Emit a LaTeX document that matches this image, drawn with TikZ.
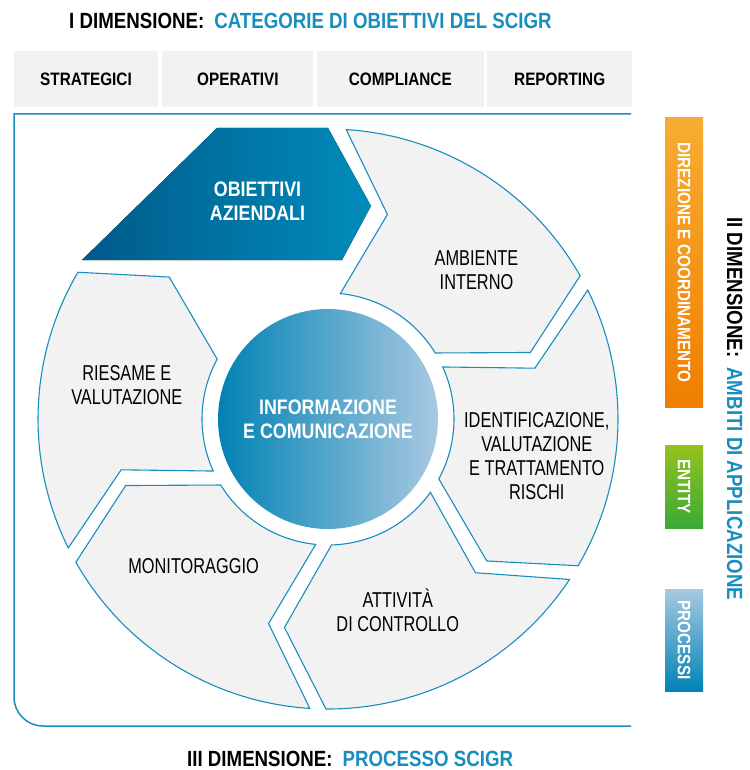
\documentclass[tikz,border=0pt]{standalone}
\usepackage{fontspec}
\usepackage{graphicx}
\usepackage{tikz}
\usetikzlibrary{positioning}
\setmainfont{Liberation Sans}[FakeStretch=0.76]
\newfontfamily\headfont{Liberation Sans}[FakeStretch=0.85]
\definecolor{sciblue}{RGB}{24,142,190}
\definecolor{segfill}{RGB}{242,242,242}
\definecolor{objdark}{RGB}{0,90,138}
\definecolor{objlight}{RGB}{0,140,187}
\definecolor{infoleft}{RGB}{0,130,180}
\definecolor{inforight}{RGB}{169,201,225}
\definecolor{dirtop}{RGB}{247,173,51}
\definecolor{dirbot}{RGB}{240,126,0}
\definecolor{enttop}{RGB}{149,193,31}
\definecolor{entbot}{RGB}{58,170,53}
\definecolor{protop}{RGB}{168,200,226}
\definecolor{probot}{RGB}{0,131,181}

\begin{document}
\begin{tikzpicture}[x=1pt, y=-1pt,
    catbox/.style={fill=segfill, minimum height=56, inner sep=0pt, font=\headfont\bfseries\fontsize{18}{22}\selectfont},
    segment/.style={draw=sciblue, line width=1.1pt, fill=segfill},
    seglabel/.style={align=center, font=\fontsize{21.5}{24}\selectfont},
    dimtitle/.style={inner sep=0pt, font=\headfont\bfseries\fontsize{22}{24}\selectfont},
    bar/.style={minimum width=38, inner sep=0pt, text=white, font=\headfont\bfseries\fontsize{18}{20}\selectfont}]
    \useasboundingbox (0,0) rectangle (749,770);

    % I dimensione
    \node[dimtitle, anchor=base west] (dimone) at (69,29) {I DIMENSIONE:\hskip10pt\textcolor{sciblue}{CATEGORIE DI OBIETTIVI DEL SCIGR}};
    \node[catbox, minimum width=144] (strategici) at (86,79) {STRATEGICI};
    \node[catbox, minimum width=151, right=4pt of strategici] (operativi) {OPERATIVI};
    \node[catbox, minimum width=167, right=3pt of operativi] (compliance) {COMPLIANCE};
    \node[catbox, minimum width=145, right=3pt of compliance] (reporting) {REPORTING};

    % cornice
    \draw[sciblue, line width=1.5pt] (631,114) -- (14,114) -- (14,697) arc[start angle=180, end angle=270, radius=29pt] -- (631,726);

    % obiettivi aziendali
    \fill[left color=objdark, right color=objlight] (217,128) -- (328,128) -- (371,206) -- (342,260) -- (82,260) -- cycle;
    \node[align=center, text=white, font=\headfont\bfseries\fontsize{21}{24}\selectfont] (obiettivi) at (257.5,201) {OBIETTIVI\\AZIENDALI};

    % processo
    \begin{scope}[shift={(328,419)}]
    \foreach \i/\ang/\rad/\txt in {0/45/210/{AMBIENTE\\INTERNO}, 1/-10/212/{IDENTIFICAZIONE,\\VALUTAZIONE\\E TRATTAMENTO\\RISCHI}, 2/-70/204/{ATTIVITÀ\\DI CONTROLLO}, 3/-132.5/199/{MONITORAGGIO}, 4/170.5/204/{RIESAME E\\VALUTAZIONE}} {
        \pgfmathsetmacro\a{88-60*\i}
        \pgfmathsetmacro\b{\a-60}
        \draw[segment] ({\a-1.6}:290pt) arc[start angle={\a-1.6}, end angle={\b+1.6}, radius=290pt]
            -- ({\b-12+2.2}:213pt) -- ({\b+3.6}:126pt)
            arc[start angle={\b+3.6}, end angle={\a-3.6}, radius=126pt]
            -- ({\a-12-2.2}:213pt) -- cycle;
        \node[seglabel] (seg\i) at (\ang:\rad pt) {\txt};
    }
    \end{scope}
    \node[circle, minimum size=220, left color=infoleft, right color=inforight, text=white, align=center, font=\headfont\bfseries\fontsize{21}{24}\selectfont] (info) at (328,419) {INFORMAZIONE\\E COMUNICAZIONE};

    % II dimensione
    \node[bar, minimum height=289, top color=dirtop, bottom color=dirbot] (direzione) at (684,262.5) {\rotatebox{-90}{DIREZIONE E COORDINAMENTO}};
    \node[bar, minimum height=83, top color=enttop, bottom color=entbot] (entity) at (684,486.5) {\rotatebox{-90}{ENTITY}};
    \node[bar, minimum height=102, top color=protop, bottom color=probot] (processi) at (684,640) {\rotatebox{-90}{PROCESSI}};
    \node[dimtitle, rotate=-90, anchor=base west] (dimtwo) at (727,217) {II DIMENSIONE:\hskip10pt\textcolor{sciblue}{AMBITI DI APPLICAZIONE}};

    % III dimensione
    \node[dimtitle, anchor=base west] (dimthree) at (187,766) {III DIMENSIONE:\hskip10pt\textcolor{sciblue}{PROCESSO SCIGR}};
\end{tikzpicture}
\end{document}
